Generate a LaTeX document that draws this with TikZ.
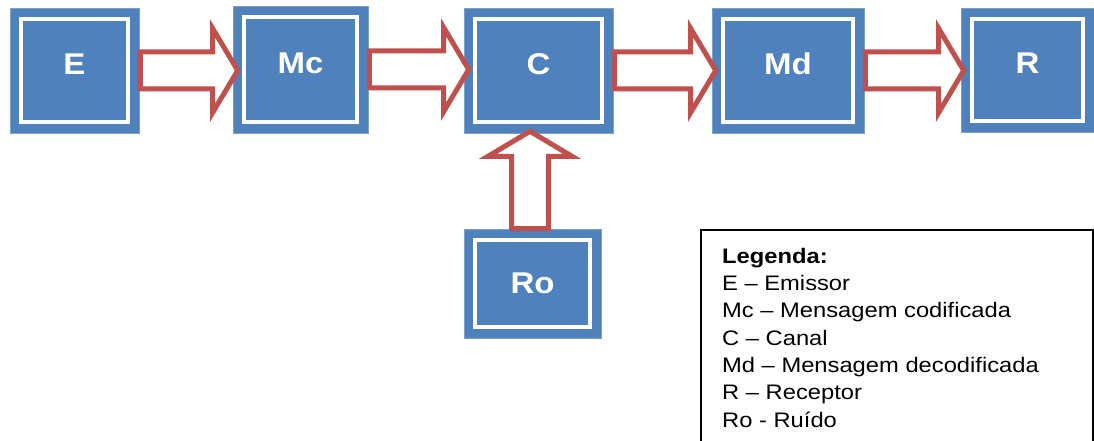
\documentclass[tikz,border=0pt]{standalone}
\usepackage{fontspec}
\setmainfont{Liberation Sans}
\newfontfamily\stfont[FakeStretch=1.1]{Liberation Sans}
\newfontfamily\legfont[FakeStretch=1.13]{Liberation Sans}
\usetikzlibrary{calc}
\definecolor{boxblue}{HTML}{4F81BD}
\definecolor{arrred}{HTML}{C0504D}
\begin{document}
\begin{tikzpicture}[x=1pt,y=-1pt,
  bluebox/.style={fill=boxblue, draw=boxblue!75!white, line width=0.6pt, inner sep=0pt,
    path picture={\draw[white,line width=4pt]
      ([shift={(11pt,-11pt)}]path picture bounding box.north west) rectangle
      ([shift={(-11pt,11pt)}]path picture bounding box.south east);}},
  lbl/.style={text=white, inner sep=0pt, font=\stfont\bfseries\fontsize{30}{30}\selectfont},
  toplbl/.style={label={[lbl,yshift=6.5pt]center:#1}},
  hblock/.style={draw=arrred, fill=white, line width=5pt, line join=miter,
    to path={let \p1=(\tikztostart), \p2=(\tikztotarget) in
      (\x1,\y1+18.5pt) -- (\x2-25pt,\y1+18.5pt) -- (\x2-25pt,\y1+42pt) -- (\x2,\y1)
      -- (\x2-25pt,\y1-42pt) -- (\x2-25pt,\y1-18.5pt) -- (\x1,\y1-18.5pt) -- cycle}},
  vblock/.style={draw=arrred, fill=white, line width=5pt, line join=miter,
    to path={let \p1=(\tikztostart), \p2=(\tikztotarget) in
      (\x1+18.5pt,\y1) -- (\x1+18.5pt,\y2-25pt) -- (\x1+42pt,\y2-25pt) -- (\x1,\y2)
      -- (\x1-42pt,\y2-25pt) -- (\x1-18.5pt,\y2-25pt) -- (\x1-18.5pt,\y1) -- cycle}},
  legtext/.style={anchor=base west, inner sep=0pt, align=left,
    font=\legfont\fontsize{21}{27.3}\selectfont}
]
\useasboundingbox (0,0) rectangle (1094,441);

\node[bluebox, minimum width=129pt, minimum height=125pt, toplbl=E]  (E)  at (74.5,70.5) {};
\node[bluebox, minimum width=135pt, minimum height=127pt, toplbl=Mc] (Mc) at (300.5,69.5) {};
\node[bluebox, minimum width=149pt, minimum height=125pt, toplbl=C]  (C)  at (538.5,70.5) {};
\node[bluebox, minimum width=152pt, minimum height=125pt, toplbl=Md] (Md) at (788,70.5) {};
\node[bluebox, minimum width=133pt, minimum height=124pt, toplbl=R]  (R)  at (1027.5,70) {};
\node[bluebox, minimum width=137pt, minimum height=109pt, label={[lbl]center:Ro}] (Ro) at (532.5,283.5) {};

\draw[hblock] ($(E.east)+(1,0)$)  to ($(Mc.west)+(5,0)$);
\draw[hblock] ($(Mc.east)+(1,0)$) to ($(C.west)+(5,0)$);
\draw[hblock] ($(C.east)+(1,0)$)  to ($(Md.west)+(4,0)$);
\draw[hblock] ($(Md.east)+(1,0)$) to ($(R.west)+(3,0)$);
\draw[vblock] ($(Ro.north)+(-2.5,0)$) to ($(C.south)+(0,-2)$);

\draw[line width=2pt] (701,230) rectangle (1093,470);
\node[legtext] (leg) at (722,427) {\textbf{Legenda:}\\
E – Emissor\\
Mc – Mensagem codificada\\
C – Canal\\
Md – Mensagem decodificada\\
R – Receptor\\
Ro - Ruído};
\end{tikzpicture}
\end{document}
